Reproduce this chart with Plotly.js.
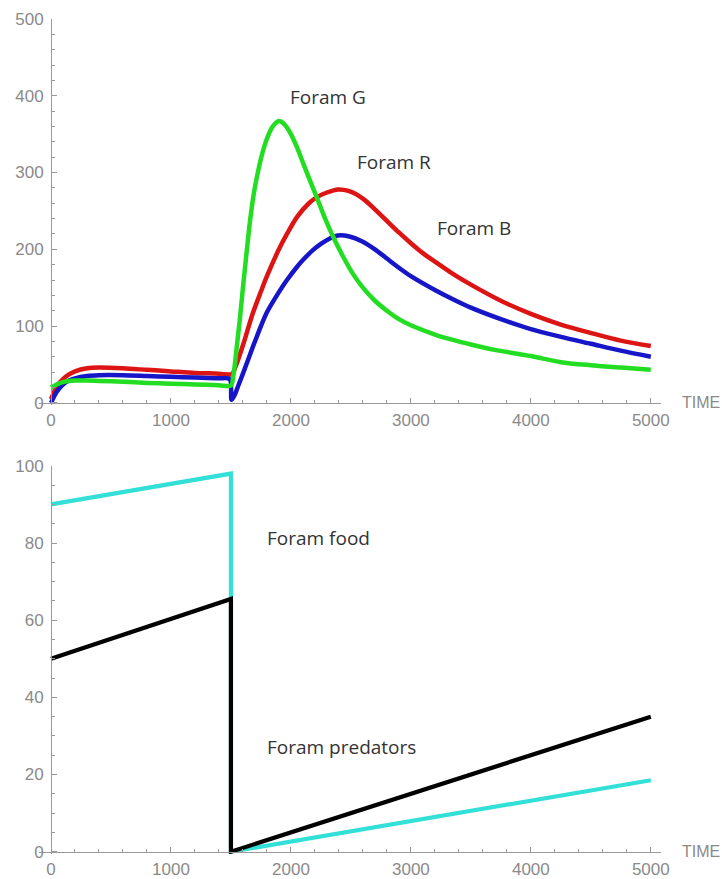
<!DOCTYPE html>
<html>
<head>
<meta charset="utf-8">
<script src="https://cdn.plot.ly/plotly-3.0.1.min.js"></script>
<style>
html,body{margin:0;padding:0;background:#fff;}
#chart{width:722px;height:879px;}
</style>
</head>
<body>
<div id="chart"></div>
<script>
// ---- Top panel: foram populations ----
const tG = [0,25,50,100,150,200,300,400,600,800,1000,1200,1400,1500,1520,1550,1575,1600,1630,1660,1690,1720,1750,1780,1810,1840,1870,1900,1930,1960,2000,2050,2100,2150,2217,2280,2350,2430,2517,2600,2700,2800,2900,3000,3200,3350,3500,3700,4000,4250,4500,4750,5000];
const foramG = [20,22,24,27,28.5,29,29,28.5,27.5,26,25,24,23,22.5,35,75,110,150,195,238,272,297,318,335,348,358,364,367,365,360,350,333,313,293,267,242,217,192,168,150,133,120,109,101,89,82,76,69,61,53,49,46,43];

const tR = [0,25,50,100,150,200,300,400,600,800,1000,1200,1400,1500,1517,1550,1600,1683,1750,1800,1900,1967,2050,2150,2217,2300,2392,2480,2600,2700,2800,2900,3000,3100,3200,3350,3500,3750,4000,4250,4500,4750,5000];
const foramR = [5,14,22,31,37,41,45,46,45,43,41,39,38,37,39,52,75,117,145,165,200,220,242,260,268,274,278,276,266,252,237,222,208,195,184,168,154,133,116,102,91,81,74];

const tB = [0,25,50,100,150,200,300,400,600,800,1000,1200,1400,1490,1505,1530,1560,1600,1683,1750,1800,1883,1967,2050,2100,2183,2250,2300,2350,2392,2480,2600,2700,2800,2900,3000,3200,3350,3500,3750,4000,4250,4500,4750,5000];
const foramB = [0,8,15,24,29,32,35,36,36,35,34,33,32,31,4,10,22,38,73,100,118,140,160,177,186,199,207,212,216,218,217,210,200,188,176,165,147,135,124,109,96,86,77,68,60];

// ---- Bottom panel: food and predators ----
const tEnv = [0,1500,1500,5000];
const foramFood = [90,98,0,18.5];
const foramPredators = [50,65.5,0,35];

// ---- Labels ----
const xTickVals = [0,1000,2000,3000,4000,5000];
const labelsTop = [
  {text:'Foram G', t:1975, v:398},
  {text:'Foram R', t:2533, v:314},
  {text:'Foram B', t:3200, v:228}
];
const labelsBottom = [
  {text:'Foram food', t:1783, v:81.3},
  {text:'Foram predators', t:1783, v:27.2}
];

const W = 722, H = 879;
const mL = 39, mR = 61, mT = 19, mB = 24.7;
const plotH = H - mT - mB;
const xRange = [-100, 5085];
const yPos = (0 - xRange[0]) / (xRange[1] - xRange[0]);
const topDom = [(H - mB - 405.3) / plotH, 1];
const botDom = [0, (H - mB - 466) / plotH];
const topAxisPos = (H - mB - 403) / plotH;
const botAxisPos = (H - mB - 852) / plotH;

const axisGray = '#9a9a9a';
const tickFont = {family:'Liberation Sans, Arial, sans-serif', size:17, color:'#8a8a8a'};
const timeFont = {family:'Liberation Sans, Arial, sans-serif', size:16, color:'#8a8a8a'};
const lblFont = {family:'Open Sans, Noto Sans, sans-serif', size:19, color:'#333333'};

function xaxisCfg(pos){
  return {
    domain:[0,1], range:xRange, anchor:'free', position:pos,
    showgrid:false, zeroline:false, showline:true, linecolor:axisGray, linewidth:1,
    ticks:'inside', ticklen:5, tickcolor:axisGray, tickwidth:1,
    tickvals:xTickVals, ticktext:xTickVals.map(String), tickfont:tickFont, ticklabelstandoff:2,
    minor:{dtick:200, tick0:0, ticks:'inside', ticklen:3, tickcolor:axisGray, showgrid:false}
  };
}
function yaxisCfg(dom, rng, dt, mdt){
  return {
    domain:dom, range:rng, anchor:'free', position:yPos,
    showgrid:false, zeroline:false, showline:true, linecolor:axisGray, linewidth:1,
    ticks:'inside', ticklen:5, tickcolor:axisGray, tickwidth:1,
    tick0:0, dtick:dt, tickfont:tickFont, ticklabelstandoff:4,
    minor:{dtick:mdt, tick0:0, ticks:'inside', ticklen:3, tickcolor:axisGray, showgrid:false}
  };
}

const sm = 0.8;
const traces = [
  {x:tR, y:foramR, mode:'lines', line:{color:'#dd1414', width:4.5, shape:'spline', smoothing:sm}, xaxis:'x', yaxis:'y', name:'Foram R'},
  {x:tB, y:foramB, mode:'lines', line:{color:'#1616c8', width:4.5, shape:'spline', smoothing:sm}, xaxis:'x', yaxis:'y', name:'Foram B'},
  {x:tG, y:foramG, mode:'lines', line:{color:'#22dd22', width:4.5, shape:'spline', smoothing:sm}, xaxis:'x', yaxis:'y', name:'Foram G'},
  {x:tEnv, y:foramFood, mode:'lines', line:{color:'#33e0d8', width:4.2}, xaxis:'x2', yaxis:'y2', name:'Foram food'},
  {x:tEnv, y:foramPredators, mode:'lines', line:{color:'#000000', width:4.2}, xaxis:'x2', yaxis:'y2', name:'Foram predators'}
];

const annotations = [];
labelsTop.forEach(l => annotations.push({text:l.text, x:l.t, y:l.v, xref:'x', yref:'y', xanchor:'left', yanchor:'middle', showarrow:false, font:lblFont}));
labelsBottom.forEach(l => annotations.push({text:l.text, x:l.t, y:l.v, xref:'x2', yref:'y2', xanchor:'left', yanchor:'middle', showarrow:false, font:lblFont}));
const timeX = (680 - mL) / (W - mL - mR);
annotations.push({text:'TIME', x:timeX, y:topAxisPos, xref:'paper', yref:'paper', xanchor:'left', yanchor:'middle', showarrow:false, font:timeFont});
annotations.push({text:'TIME', x:timeX, y:botAxisPos, xref:'paper', yref:'paper', xanchor:'left', yanchor:'middle', showarrow:false, font:timeFont});

const layout = {
  width:W, height:H,
  margin:{l:mL, r:mR, t:mT, b:mB},
  paper_bgcolor:'#ffffff', plot_bgcolor:'#ffffff',
  showlegend:false,
  xaxis:xaxisCfg(topAxisPos),
  yaxis:yaxisCfg(topDom, [-3,500], 100, 20),
  xaxis2:xaxisCfg(botAxisPos),
  yaxis2:yaxisCfg(botDom, [-0.6,100], 20, 5),
  annotations:annotations
};

Plotly.newPlot('chart', traces, layout, {displayModeBar:false, staticPlot:true});
</script>
</body>
</html>
